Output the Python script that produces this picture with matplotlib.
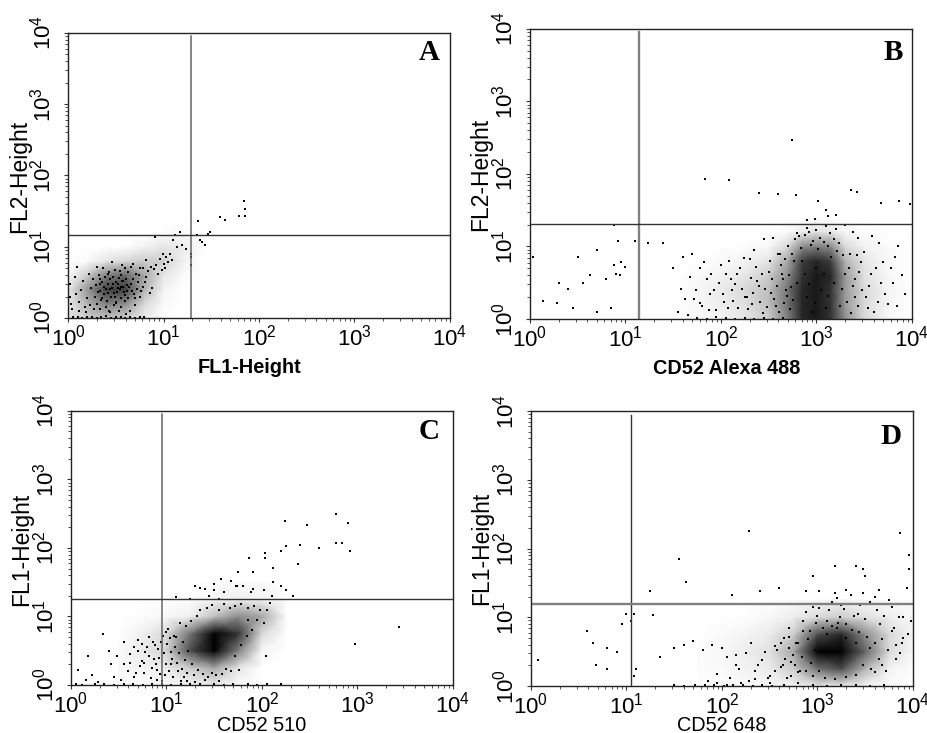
import numpy as np
import matplotlib
matplotlib.use("Agg")
import matplotlib.pyplot as plt

plt.rcParams['font.family'] = ['Liberation Sans', 'DejaVu Sans']
plt.rcParams['mathtext.fontset'] = 'custom'
plt.rcParams['mathtext.rm'] = 'Liberation Sans'
plt.rcParams['mathtext.default'] = 'rm'

# panel A
a_gate = [19.6, 14.4]
a_gx = [0, .2, .4, .6, .8, 1.0, 1.2, 1.4]
a_gy = [0, .2, .4, .6, .8, 1.0, 1.2, 1.4]
a_dens = [[.10, .20, .25, .20, .08, 0, 0, 0],
          [.08, .30, .50, .45, .15, .02, 0, 0],
          [.08, .40, .75, .75, .30, .05, 0, 0],
          [.02, .20, .50, .60, .35, .10, .02, 0],
          [0, .02, .10, .15, .20, .18, .06, 0],
          [0, 0, 0, .01, .05, .10, .08, .01],
          [0, 0, 0, 0, 0, .01, .02, 0],
          [0, 0, 0, 0, 0, 0, 0, 0]]
a_events = [(1.36,1.36),(1.59,1.42),(1.64,1.37),(1.84,1.64),(1.85,1.53),(1.79,1.43),(1.85,1.43),(1.49,1.21),(1.47,1.18),(1.35,1.17),
            (1.17,1.21),(1.12,1.17),(1.38,1.09),(1.43,1.02),(1.40,1.07),(.91,1.13),(1.10,1.09),(1.14,1.00),(1.19,1.02),(1.24,.97),
            (1.29,.86),(1.29,.74),(1.29,.90),(1.03,.86),(.96,.83),(1.07,.90),(1.00,.76),(.87,.71),(.82,.81),(.09,.71),(.02,.48),
            (.07,.57),(.14,.39),(.20,.28),(.26,.55),(.30,.71),(.34,.47),(.38,.33),(.42,.62),(.46,.78),(.50,.21),(.54,.66),(.58,.52),
            (.62,.38),(.66,.72),(.70,.28),(.74,.60),(.78,.44),(.82,.58),(.86,.35),(.90,.69),(.94,.62),(.24,.42),(.28,.30),(.32,.60),
            (.36,.50),(.40,.40),(.44,.55),(.48,.35),(.52,.48),(.56,.60),(.60,.32),(.64,.44),(.68,.54),(.72,.40),(.30,.20),(.35,.25),
            (.40,.15),(.45,.30),(.50,.22),(.55,.16),(.60,.24),(.65,.10),(.70,.18),(.75,.30),(.42,.48),(.47,.58),(.52,.42),(.57,.52),
            (.62,.46),(.67,.38),(.05,.02),(.10,.01),(.15,.00),(.20,.01),(.25,.02),(.30,.00),(.35,.01),(.40,.03),(.45,.00),(.50,.02),
            (.55,.01),(.60,.00),(.65,.01),(.70,.00),(.75,.02),(.80,.01),(.03,.20),(.12,.10),(.18,.15),(.33,.12),(.44,.08),(.53,.10),
            (.61,.06),(.49,.68),(.57,.74),(.63,.65),(.37,.70),(.43,.64),(.50,.50),(.54,.40),(.58,.44),(.46,.42),(.42,.35),(.34,.38),
            (.02,.30),(.04,.12),(.08,.34),(.11,.22),(.16,.52),(.19,.08),(.22,.62),(.23,.18),(.27,.12),(.29,.46),(.31,.36),(.33,.54),
            (.36,.28),(.38,.44),(.39,.58),(.41,.24),(.43,.10),(.44,.40),(.47,.48),(.48,.18),(.49,.30),(.51,.36),(.53,.56),(.55,.28),
            (.56,.44),(.59,.36),(.61,.54),(.63,.28),(.66,.48),(.69,.34),(.71,.62),(.73,.50),(.76,.38),(.79,.70),(.81,.50),(.84,.66),
            (.88,.42),(.92,.74),(.98,.68),(1.02,.70),(1.05,.78),(1.09,.82),(.99,.90),(.75,.70),(.68,.76),(.60,.70)]

# panel B
b_gate = [13.7, 20.4]
b_gx = [1.5, 1.75, 2, 2.25, 2.5, 2.7, 2.85, 3.0, 3.15, 3.3, 3.5, 3.75, 4.0]
b_gy = [0, .2, .4, .6, .8, 1.0, 1.2, 1.4]
b_dens = [[0, .02, .05, .10, .20, .50, .85, .90, .80, .45, .15, .03, 0],
          [0, .03, .07, .12, .25, .55, .85, .90, .80, .40, .15, .03, 0],
          [0, .03, .08, .15, .25, .55, .85, .90, .80, .40, .15, .04, 0],
          [0, .02, .05, .10, .20, .45, .80, .90, .85, .40, .12, .03, 0],
          [0, 0, .02, .05, .10, .35, .75, .85, .75, .30, .10, .03, 0],
          [0, 0, 0, .01, .03, .15, .45, .50, .45, .15, .05, .02, 0],
          [0, 0, 0, 0, 0, .02, .08, .12, .10, .03, .01, 0, 0],
          [0, 0, 0, 0, 0, 0, 0, 0, 0, 0, 0, 0, 0]]
b_events = [(2.74,2.47),(1.83,1.93),(2.08,1.91),(2.40,1.73),(2.60,1.72),(2.79,1.71),(3.02,1.62),(3.36,1.78),(3.42,1.75),(3.68,1.60),
            (3.86,1.62),(3.98,1.58),(3.20,1.44),(3.10,1.50),(3.12,1.42),(3.30,1.30),(2.90,1.36),(2.98,1.38),(.88,1.29),(.92,1.07),
            (.70,.95),(.50,.85),(.88,.75),(.99,.72),(.03,.85),(.14,.25),(.30,.50),(.40,.42),(.55,.50),(.63,.60),(.80,.55),(.94,.60),
            (1.10,1.08),(1.24,1.05),(1.39,1.05),(.00,.30),(.00,.20),(.28,.22),(.45,.15),(.70,.10),(.85,.15),(.90,.62),(.95,.78),
            (1.50,.70),(1.60,.85),(1.70,.90),(1.78,.70),(1.85,.55),(1.93,.40),(2.00,.75),(2.05,.62),(2.10,.55),(2.15,.48),(2.20,.70),
            (2.25,.30),(2.30,.82),(2.35,.95),(2.40,.45),(2.45,1.10),(2.50,.65),(2.55,1.12),(2.60,.90),(2.65,.55),(1.72,.28),(1.80,.18),
            (1.88,.35),(1.95,.12),(2.03,.24),(2.12,.40),(2.18,.15),(2.27,.30),(2.33,.20),(2.38,.52),(2.44,.08),(2.52,.36),(2.58,.18),
            (2.63,.74),(2.68,.40),(1.55,.10),(1.65,.05),(1.75,.02),(1.85,.00),(1.95,.03),(2.05,.01),(2.15,.00),(2.25,.02),(2.35,.00),
            (2.45,.01),(2.55,.00),(2.65,.02),(3.40,.30),(3.45,.65),(3.50,.92),(3.55,.45),(3.60,.10),(3.65,1.05),(3.70,.78),(3.75,.20),
            (3.80,.50),(3.85,1.00),(3.90,.60),(3.42,.88),(3.48,.40),(3.54,.15),(3.62,.70),(3.72,.35),(3.82,.85),(3.38,1.20),(3.44,1.12),
            (3.58,1.15),(2.80,1.18),(2.90,1.25),(3.00,1.22),(3.10,1.28),(3.20,1.24),(2.78,1.10),(2.82,1.14),(2.88,1.16),(2.92,1.20),
            (2.96,1.08),(3.04,1.12),(3.08,1.06),(3.14,1.18),(3.18,1.10),(3.24,1.05),(2.84,.98),(2.94,1.02),(3.02,.96),(3.12,1.00),
            (3.22,.94),(2.62,.90),(2.70,1.00),(2.76,.80),(3.28,.88),(3.34,.70),(3.40,.55),(2.80,.50),(2.90,.30),(3.00,.70),(3.10,.15),
            (3.18,.50),(2.85,.80),(2.95,.10),(3.05,.40),(3.15,.85),(2.88,.62),(3.08,.62),(2.98,.22),(2.92,.48),(3.12,.32),
            (1.58,.42),(1.62,.28),(1.68,.58),(1.74,.40),(1.78,.22),(1.82,.78),(1.87,.12),(1.90,.62),(1.98,.50),(2.02,.34),(2.07,.15),
            (2.08,.80),(2.13,.25),(2.17,.62),(2.22,.42),(2.24,.84),(2.28,.14),(2.31,.56),(2.34,.36),(2.37,.72),(2.41,.24),(2.43,.62),
            (2.46,.42),(2.48,.16),(2.51,.80),(2.53,.55),(2.56,.28),(2.59,.46),(2.61,.10),(2.64,.62),(2.66,.22),(2.67,.82),(2.69,.32),
            (2.71,.60),(2.72,.14),(2.73,.44),(2.74,.90),(2.75,.26),(3.25,.18),(3.27,.42),(3.30,.62),(3.32,.24),(3.35,.90),(3.36,.08),
            (3.38,.46),(3.43,.18),(3.47,.78),(3.52,.30),(3.57,.62),(3.64,.24),(3.68,.50),(3.78,.70),(3.84,.18),(3.93,.35)]

# panel C
c_gate = [9.0, 17.9]
c_gx = [.5, .75, 1, 1.25, 1.5, 1.75, 2, 2.25]
c_gy = [0, .25, .5, .75, 1, 1.25, 1.5]
c_dens = [[0, 0, .02, .05, .08, .02, 0, 0],
          [.02, .05, .08, .20, .35, .10, 0, 0],
          [.02, .08, .18, .70, 1, .50, .03, 0],
          [0, .06, .15, .55, 1, .80, .15, 0],
          [0, .01, .03, .06, .25, .45, .35, .02],
          [0, 0, 0, .01, .04, .06, .05, .01],
          [0, 0, 0, 0, .01, .02, .02, 0]]
c_events = [(2.77,2.49),(2.90,2.37),(2.77,2.07),(2.24,2.40),(2.47,2.34),(2.25,2.03),(2.60,2.00),(2.20,1.96),(2.03,1.93),(2.03,1.85),
            (1.86,1.85),(1.91,1.65),(1.75,1.65),(2.12,1.70),(2.40,2.04),(2.38,1.76),(2.12,1.50),(1.74,1.45),(1.50,1.48),(1.57,1.55),
            (1.73,1.45),(1.91,1.40),(2.02,1.38),(2.20,1.45),(1.68,1.52),(1.80,1.44),(1.88,1.36),(2.10,1.30),(1.40,1.40),(1.45,1.30),
            (1.60,1.35),(1.55,1.25),(1.50,1.38),(1.30,1.45),(1.35,1.42),(1.10,1.28),(1.25,1.25),(2.08,1.20),(2.25,1.38),(2.33,1.30),
            (2.92,1.95),(2.84,2.07),(3.43,.85),(2.97,.60),(2.04,.43),(1.76,.22),(.07,.22),(.18,.42),(.22,.15),(.33,.75),(.40,.50),
            (.42,.30),(.48,.42),(.55,.62),(.60,.20),(.66,.55),(.70,.65),(.74,.35),(.78,.48),(.82,.70),(.85,.25),(.88,.58),(.92,.40),
            (.96,.72),(.66,.12),(.72,.28),(.80,.55),(.87,.38),(.94,.62),(1.00,.78),(1.05,.48),(1.10,.70),(.55,.30),(.62,.45),(.68,.18),
            (.76,.32),(.84,.10),(.90,.22),(.98,.14),(1.05,.30),(1.12,.20),(1.18,.12),(1.22,.06),(1.02,.82),(1.08,.72),(1.14,.90),
            (1.20,.86),(1.26,.94),(1.32,1.00),(.05,.01),(.12,.00),(.25,.02),(.35,.01),(.45,.00),(.55,.01),(.65,.02),(.75,.00),(.85,.01),
            (.95,.02),(1.05,.00),(1.15,.01),(1.25,.02),(1.35,.01),(1.50,.02),(1.60,.00),(1.70,.01),(1.85,.02),(1.95,.00),(2.05,.02),
            (2.20,.01),(.16,.08),(.28,.05),(.45,.12),(.52,.08),(.90,.08),(.95,.06),(1.15,.06),(1.30,.05),(1.40,.08),(1.55,.06),
            (.62,.32),(.70,.50),(.74,.60),(.76,.18),(.82,.42),(.86,.62),(.89,.30),(.91,.52),(.93,.16),(.97,.46),(.99,.30),(1.01,.60),
            (1.03,.20),(1.04,.68),(1.06,.38),(1.07,.12),(1.09,.56),(1.11,.32),(1.13,.46),(1.16,.24),(1.17,.62),(1.19,.36),(1.21,.18),
            (1.23,.50),(1.27,.30),(1.29,.14),(1.33,.22),(1.38,.16),(1.43,.12),(1.48,.18),(1.52,.14),(1.58,.16),(1.62,.24),(1.68,.20),
            (1.35,1.10),(1.42,1.12),(1.48,1.16),(1.55,1.10),(1.60,1.18),(1.66,1.12),(1.72,1.15),(1.78,1.18),(1.85,1.12),(1.92,1.15),
            (1.98,1.10),(2.05,1.10),(1.95,.95),(2.02,.90),(1.90,.80),(1.84,.72),(1.78,.58),(1.72,.42),(1.85,.95)]

# panel D
d_gate = [11.2, 15.6]
d_gx = [1.75, 2, 2.25, 2.5, 2.75, 3, 3.25, 3.5, 3.75, 4]
d_gy = [0, .25, .5, .75, 1, 1.25]
d_dens = [[0, .01, .02, .03, .05, .10, .10, .04, .01, 0],
          [.01, .02, .05, .08, .20, .55, .70, .30, .05, .01],
          [.01, .03, .07, .12, .35, 1, 1, .60, .15, .03],
          [0, .02, .04, .08, .20, .70, .85, .45, .15, .05],
          [0, 0, .01, .03, .07, .15, .20, .12, .07, .03],
          [0, 0, 0, .01, .02, .03, .04, .03, .02, .01]]
d_events = [(2.28,2.25),(1.55,1.85),(1.62,1.52),(3.86,2.22),(3.96,1.70),(3.96,1.90),(3.40,1.75),(3.48,1.70),(3.50,1.60),(3.18,1.75),
            (2.95,1.60),(2.60,1.42),(2.40,1.38),(2.10,1.32),(1.70,1.20),(1.28,1.03),(1.25,1.38),(1.08,1.05),(1.00,1.05),(1.05,.95),
            (.95,.90),(.59,.80),(.65,.62),(.80,.55),(.90,.50),(.07,.38),(.68,.30),(.80,.25),(1.10,.25),(1.08,.15),(1.35,.42),(1.50,.55),
            (1.60,.60),(1.70,.65),(1.80,.52),(1.90,.60),(2.00,.55),(2.15,.45),(2.30,.62),(2.45,.50),(2.55,.58),(2.65,.70),(2.70,.85),
            (2.78,.62),(2.85,.95),(2.92,.80),(3.00,1.02),(3.05,1.20),(3.12,1.10),(3.20,1.28),(3.28,1.12),(3.35,1.32),(3.42,1.05),
            (3.55,1.22),(3.62,1.10),(3.70,1.02),(3.78,1.15),(3.85,1.00),(3.92,1.20),(3.98,.95),(2.72,.35),(2.82,.22),(2.95,.14),
            (3.08,.12),(3.18,.10),(3.30,.13),(3.40,.16),(3.60,.20),(3.72,.22),(3.82,.40),(2.70,.72),(2.85,.80),(2.98,.92),(3.10,.95),
            (3.24,1.00),(3.38,1.02),(3.50,.98),(3.65,.90),(3.80,.85),(3.90,.70),(2.05,.42),(2.15,.30),(2.25,.48),(2.35,.22),(2.42,.38),
            (2.50,.15),(2.58,.52),(2.62,.28),(2.68,.12),(2.74,.45),(2.80,.20),(1.95,.18),(2.08,.12),(2.18,.25),(2.28,.08),(2.38,.30),
            (2.48,.12),(2.56,.22),(2.64,.30),(2.72,.15),(1.85,.08),(1.95,.04),(2.05,.02),(2.20,.05),(2.35,.10),(2.50,.04),(2.65,.02),
            (2.80,.05),(2.95,.02),(3.10,.00),(3.25,.01),(3.40,.02),(3.55,.00),(3.70,.01),(1.50,.02),(1.60,.00),(1.72,.01),(1.82,.02),
            (1.92,.01),(2.02,.00),(2.12,.01),(2.22,.02),(2.32,.00),(2.42,.01),(2.52,.00),(3.10,.75),(3.20,.85),(3.30,.70),(3.40,.62),
            (3.55,.55),(3.68,.68),(3.78,.80),(3.88,.62),(3.95,.75),
            (2.62,.62),(2.66,.40),(2.70,.55),(2.76,.30),(2.80,.62),(2.84,.42),(2.88,.22),(2.90,.68),(2.93,.34),(2.97,.52),(3.02,.22),
            (3.06,.84),(3.15,.88),(3.22,.92),(3.30,.90),(3.36,.82),(3.44,.78),(3.48,.30),(3.52,.72),(3.56,.25),(3.60,.62),(3.64,.40),
            (3.68,.30),(3.74,.52),(3.82,.60),(3.86,.48),(2.88,1.08),(2.95,1.15),(3.02,1.14),(3.15,1.22),(3.25,1.18),(3.45,1.18),
            (3.60,1.30),(3.75,1.25),(3.90,1.00),(3.02,1.38),(3.18,1.35),(3.30,1.40),(3.48,1.35),(3.64,1.40),(3.94,1.42),(2.88,1.38)]

thin = ('#333333', 1.0)
mid = ('#666666', 1.1)
thick = ('#808080', 1.7)

# letter positions are in picture pixels
panels = [("A", [.0733, .5662, .4116, .389], a_gate, a_gx, a_gy, a_dens, a_events, "FL2-Height", "FL1-Height", "bold",
           (.475, -.175), (-.126, .498), (429, 53), mid, thin),
          ("B", [.5711, .5648, .4116, .396], b_gate, b_gx, b_gy, b_dens, b_events, "FL2-Height", "CD52 Alexa 488", "bold",
           (.514, -.172), (-.128, .497), (893, 53), thick, thin),
          ("C", [.0765, .0655, .4116, .374], c_gate, c_gx, c_gy, c_dens, c_events, "FL1-Height", "CD52 510", "normal",
           (.5, -.146), (-.128, .496), (429, 432), mid, thin),
          ("D", [.5722, .0641, .4116, .375], d_gate, d_gx, d_gy, d_dens, d_events, "FL1-Height", "CD52 648", "normal",
           (.499, -.145), (-.128, .5), (891, 436), thin, thick)]

fig = plt.figure(figsize=(9.28, 7.33), dpi=100)

for name, box, gate, gx, gy, dens, events, ylab, xlab, xweight, xpos, ypos, letter, vstyle, hstyle in panels:
    ax = fig.add_axes(box)
    ev = 10.0 ** np.array(events)
    ax.pcolormesh(10.0 ** np.array(gx), 10.0 ** np.array(gy), np.array(dens),
                  shading='gouraud', cmap='gray_r', vmin=0, vmax=1)
    ax.scatter(ev[:, 0], ev[:, 1], s=.7, c='k', marker='s', linewidths=0)
    ax.set_xscale('log')
    ax.set_yscale('log')
    ax.set_xlim(1, 1e4)
    ax.set_ylim(1, 1e4)
    ax.plot([gate[0], gate[0]], [1, 8900], color=vstyle[0], lw=vstyle[1])
    ax.plot([1, 1e4], [gate[1], gate[1]], color=hstyle[0], lw=hstyle[1])
    ax.tick_params(which='major', length=3, width=.8, labelsize=16, pad=2, color='#333333')
    ax.tick_params(which='minor', length=2, width=.6, color='#333333')
    ax.tick_params(axis='y', which='major', pad=6)
    for t in ax.get_yticklabels():
        t.set_rotation(90)
        t.set_va('center')
    for s in ax.spines.values():
        s.set_linewidth(1.0)
        s.set_color('#222222')
    ax.set_ylabel(ylab, fontsize=16.5, va='center')
    ax.yaxis.set_label_coords(*ypos)
    ax.set_xlabel(xlab, fontsize=14.3, fontweight=xweight, va='center')
    ax.xaxis.set_label_coords(*xpos)
    fig.text(letter[0] / 928, 1 - letter[1] / 733, name, ha='center', va='center',
             family='Liberation Serif', fontweight='bold', fontsize=21)

plt.savefig("out.png", dpi=100)
